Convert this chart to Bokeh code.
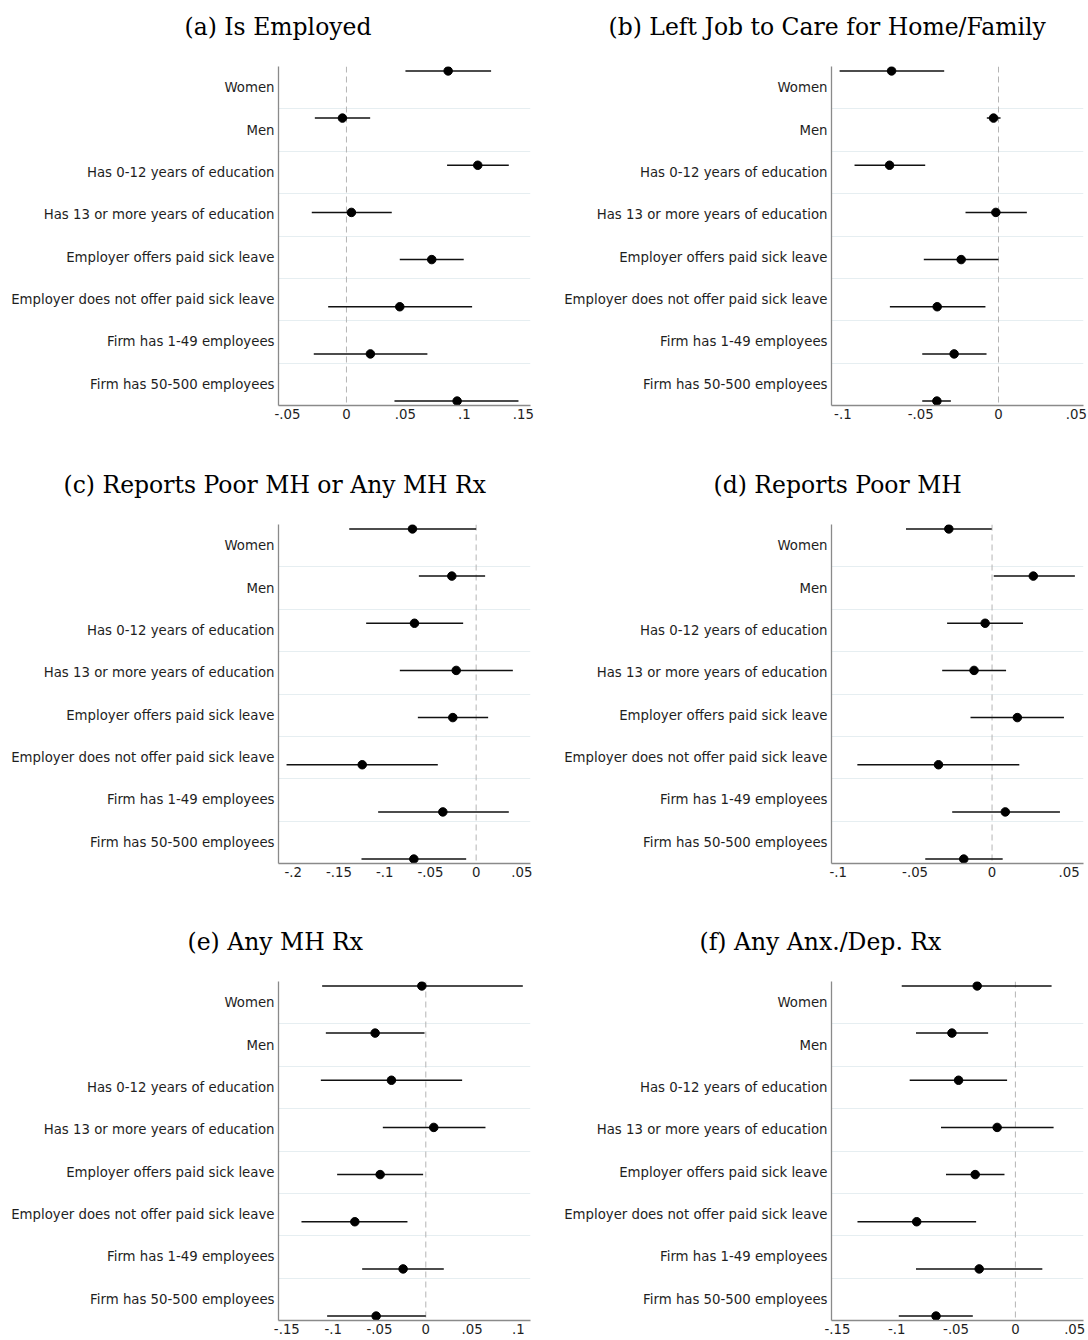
from bokeh.plotting import figure
from bokeh.models import Range1d, FixedTicker, Span, ColumnDataSource
from bokeh.layouts import gridplot
from bokeh.embed import file_html
from bokeh.resources import INLINE

# ---------------- data ----------------
labels = ["Women", "Men", "Has 0-12 years of education",
          "Has 13 or more years of education", "Employer offers paid sick leave",
          "Employer does not offer paid sick leave", "Firm has 1-49 employees",
          "Firm has 50-500 employees"]

titles = ["(a) Is Employed", "(b) Left Job to Care for Home/Family",
          "(c) Reports Poor MH or Any MH Rx", "(d) Reports Poor MH",
          "(e) Any MH Rx", "(f) Any Anx./Dep. Rx"]

est_a = [0.0862, -0.0034, 0.1113, 0.0042, 0.0723, 0.0452, 0.0203, 0.0938]
lo_a = [0.0500, -0.0268, 0.0853, -0.0294, 0.0452, -0.0155, -0.0277, 0.0407]
hi_a = [0.1226, 0.0201, 0.1376, 0.0384, 0.0994, 0.1065, 0.0686, 0.1458]

est_b = [-0.0687, -0.0032, -0.0700, -0.0017, -0.0240, -0.0394, -0.0285, -0.0396]
lo_b = [-0.1021, -0.0075, -0.0925, -0.0212, -0.0480, -0.0698, -0.0490, -0.0490]
hi_b = [-0.0349, 0.0013, -0.0471, 0.0182, 0.0000, -0.0084, -0.0077, -0.0306]

est_c = [-0.0696, -0.0266, -0.0674, -0.0218, -0.0255, -0.1245, -0.0364, -0.0681]
lo_c = [-0.1387, -0.0626, -0.1202, -0.0834, -0.0637, -0.2072, -0.1071, -0.1253]
hi_c = [0.0000, 0.0098, -0.0142, 0.0401, 0.0131, -0.0419, 0.0357, -0.0109]

est_d = [-0.0281, 0.0268, -0.0045, -0.0117, 0.0164, -0.0348, 0.0086, -0.0184]
lo_d = [-0.0559, 0.0011, -0.0292, -0.0324, -0.0140, -0.0875, -0.0259, -0.0434]
hi_d = [-0.0002, 0.0538, 0.0201, 0.0091, 0.0467, 0.0177, 0.0441, 0.0069]

est_e = [-0.0043, -0.0547, -0.0371, 0.0086, -0.0493, -0.0766, -0.0245, -0.0536]
lo_e = [-0.1119, -0.1079, -0.1133, -0.0464, -0.0957, -0.1342, -0.0687, -0.1065]
hi_e = [0.1047, -0.0014, 0.0392, 0.0644, -0.0029, -0.0198, 0.0194, 0.0000]

est_f = [-0.0322, -0.0535, -0.0479, -0.0154, -0.0339, -0.0832, -0.0305, -0.0669]
lo_f = [-0.0958, -0.0838, -0.0891, -0.0627, -0.0585, -0.1331, -0.0838, -0.0983]
hi_f = [0.0305, -0.0230, -0.0070, 0.0322, -0.0092, -0.0331, 0.0227, -0.0359]

xlim_a = (-0.0576, 0.1560)
xlim_b = (-0.1073, 0.0546)
xlim_c = (-0.2160, 0.0594)
xlim_d = (-0.1043, 0.0594)
xlim_e = (-0.1590, 0.1130)
xlim_f = (-0.1550, 0.0574)

ticks_a = [-0.05, 0.0, 0.05, 0.1, 0.15]
ticklab_a = ["-.05", "0", ".05", ".1", ".15"]
ticks_b = [-0.1, -0.05, 0.0, 0.05]
ticklab_b = ["-.1", "-.05", "0", ".05"]
ticks_c = [-0.2, -0.15, -0.1, -0.05, 0.0, 0.05]
ticklab_c = ["-.2", "-.15", "-.1", "-.05", "0", ".05"]
ticks_d = [-0.1, -0.05, 0.0, 0.05]
ticklab_d = ["-.1", "-.05", "0", ".05"]
ticks_e = [-0.15, -0.1, -0.05, 0.0, 0.05, 0.1]
ticklab_e = ["-.15", "-.1", "-.05", "0", ".05", ".1"]
ticks_f = [-0.15, -0.1, -0.05, 0.0, 0.05]
ticklab_f = ["-.15", "-.1", "-.05", "0", ".05"]

# ---------------- style ----------------
SPREAD = 1.113          # markers spread slightly wider than the label slots
FRAME_W, FRAME_H = 252, 339
LIFT = 12               # whole grid is lifted so the titles get more headroom
TOP = 66 + LIFT
# title start relative to the frame's left edge (≈ centred over the y axis line)
TITLE_SHIFT = [-94, -223, -215, -118, -91, -132]
AXIS_COLOR = "#8a8a8a"
LABEL_COLOR = "#1e1e1e"
GRID_COLOR = "#e6eef1"


def make_panel(k, est, lo, hi, xlim, ticks, ticklab):
    left_col = (k % 2 == 0)
    row = k // 2
    n = len(labels)
    pos = list(range(1, n + 1))
    ydot = [(n + 1) / 2 + (q - (n + 1) / 2) * SPREAD for q in pos]
    src = ColumnDataSource(dict(y=ydot, est=est, lo=lo, hi=hi))

    p = figure(output_backend="svg", toolbar_location=None,
               frame_width=FRAME_W, frame_height=FRAME_H,
               x_range=Range1d(*xlim), y_range=Range1d(n + 0.5, 0.5),
               min_border_top=TOP,
               min_border_left=278 if left_col else 271,
               min_border_bottom=[458 - TOP - FRAME_H, 457 - TOP - FRAME_H, 19][row],
               min_border_right=30 if left_col else 5)
    p.outline_line_color = None
    p.background_fill_color = "white"
    p.border_fill_color = "white"

    p.title.text = titles[k]
    p.title.align = "left"
    p.title.offset = TITLE_SHIFT[k]
    p.title.vertical_align = "top"
    p.title.standoff = 48
    p.title.text_font = "DejaVu Serif"
    p.title.text_font_size = "23.5px"
    p.title.text_font_style = "normal"
    p.title.text_color = "black"

    # axes
    p.xaxis.ticker = FixedTicker(ticks=ticks)
    p.xaxis.major_label_overrides = {t: l for t, l in zip(ticks, ticklab)}
    p.yaxis.ticker = FixedTicker(ticks=pos)
    p.yaxis.major_label_overrides = {q: l for q, l in zip(pos, labels)}
    for ax in (p.xaxis, p.yaxis):
        ax.axis_line_color = AXIS_COLOR
        ax.axis_line_width = 1.3
        ax.major_tick_line_color = None
        ax.minor_tick_line_color = None
        ax.major_tick_out = 0
        ax.major_tick_in = 0
        ax.minor_tick_out = 0
        ax.minor_tick_in = 0
        ax.major_label_text_font = "DejaVu Sans"
        ax.major_label_text_font_size = "13.3px"
        ax.major_label_text_color = LABEL_COLOR
    p.xaxis.major_label_standoff = 3
    p.yaxis.major_label_standoff = 4

    # grid
    p.xgrid.visible = False
    p.ygrid.ticker = FixedTicker(ticks=[q + 0.5 for q in pos[:-1]])
    p.ygrid.grid_line_color = GRID_COLOR
    p.ygrid.grid_line_width = 1

    zero = Span(location=0, dimension="height", line_color="#b4b4b4",
                line_dash="6 4", line_width=1, level="underlay")
    p.add_layout(zero)

    p.segment(x0="lo", y0="y", x1="hi", y1="y", source=src,
              line_color="#111111", line_width=1.5)
    p.scatter(x="est", y="y", source=src, size=8.5,
              fill_color="black", line_color="black")
    return p


panels = [
    make_panel(0, est_a, lo_a, hi_a, xlim_a, ticks_a, ticklab_a),
    make_panel(1, est_b, lo_b, hi_b, xlim_b, ticks_b, ticklab_b),
    make_panel(2, est_c, lo_c, hi_c, xlim_c, ticks_c, ticklab_c),
    make_panel(3, est_d, lo_d, hi_d, xlim_d, ticks_d, ticklab_d),
    make_panel(4, est_e, lo_e, hi_e, xlim_e, ticks_e, ticklab_e),
    make_panel(5, est_f, lo_f, hi_f, xlim_f, ticks_f, ticklab_f),
]

grid = gridplot([[panels[0], panels[1]], [panels[2], panels[3]],
                 [panels[4], panels[5]]], toolbar_location=None)
grid.styles = {"margin-top": f"-{LIFT}px"}

open("out.html", "w").write(file_html(grid, INLINE))
